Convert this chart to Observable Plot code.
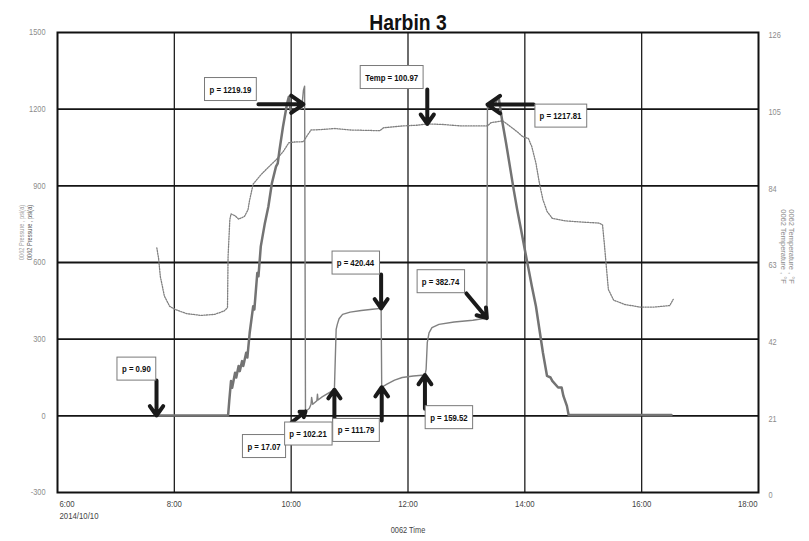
<!DOCTYPE html>
<html><head><meta charset="utf-8">
<script src="https://cdn.jsdelivr.net/npm/d3@7"></script>
<script src="https://cdn.jsdelivr.net/npm/@observablehq/plot@0.6"></script>
<style>
body{margin:0;background:#fff;}
#chart svg{font-family:"Liberation Sans",Arial,sans-serif;}
</style></head><body><div id="chart"></div>
<script>
const title = "Harbin 3";
const xTicks = [6, 8, 10, 12, 14, 16, 18];
const pTicks = [-300, 0, 300, 600, 900, 1200, 1500];
const tTicks = [0, 21, 42, 63, 84, 105, 126];
const dateLabel = "2014/10/10";
const xLabel = "0062 Time";
const yLabel = "0062 Pressure , psi(a)";
const y2Label = "0062 Temperature , °F";

// Temperature (°F), time in hours of day
const tempTime = [7.70,7.73,7.76,7.83,7.92,8.02,8.21,8.46,8.69,8.85,8.91,8.92,8.95,8.97,9.04,9.10,9.20,9.26,9.29,9.35,9.48,9.61,9.74,9.86,9.96,10.05,10.21,10.28,10.34,10.50,10.75,11.01,11.52,11.58,11.90,12.15,12.34,12.60,12.92,13.36,13.42,13.62,13.74,13.87,13.97,14.06,14.12,14.19,14.25,14.31,14.38,14.47,14.70,14.95,15.27,15.33,15.36,15.40,15.43,15.52,15.71,15.97,16.22,16.48,16.54];
const tempValue = [67.0,64.2,59.2,53.8,51.0,50.1,49.0,48.5,48.8,49.7,50.6,64.7,74.7,76.3,75.8,74.9,75.6,77.4,80.2,84.5,87.0,89.1,91.1,93.3,95.8,96.0,96.1,97.9,99.3,99.4,99.7,99.3,99.1,99.9,100.4,100.6,100.97,100.8,100.4,100.4,101.3,101.8,100.4,98.8,97.4,97.0,94.7,90.2,84.7,80.2,77.0,75.1,74.4,74.1,73.8,73.3,68.3,61.0,55.6,52.7,51.5,50.8,50.8,51.2,52.9];

// Pressure psi(a): ramp up
const pUpTime = [7.67,8.92,8.94,8.97,8.99,9.04,9.06,9.10,9.12,9.16,9.18,9.23,9.25,9.29,9.32,9.35,9.37,9.42,9.44,9.48,9.55,9.61,9.67,9.74,9.77,9.80,9.86,9.93,9.96,9.99];
const pUpValue = [0.9,0.9,58,136,110,169,150,195,175,214,195,247,228,325,377,429,416,559,546,663,754,819,910,975,988,1040,1131,1222,1248,1196];
// Pressure: hold / step section
const pMidTime = [9.99,10.02,10.18,10.21,10.23,10.245,10.31,10.34,10.35,10.37,10.44,10.45,10.46,10.53,10.63,10.74,10.77,10.79,10.82,10.88,11.01,11.20,11.39,11.54,11.55,11.64,11.77,11.90,12.09,12.29,12.31,12.33,12.36,12.41,12.53,12.79,13.11,13.35,13.36,13.42];
const pMidValue = [1196,1190,1203,1274,1290,17.07,29,45,72,45,59,85,62,74,88,102.21,338,358,380,397,406,412,417,420.44,111.79,124,140,150,156,159.52,182,286,325,345,358,367,374,382.74,1217.81,1222];
// Pressure: ramp down
const pDownTime = [13.42,13.49,13.55,13.58,13.62,13.68,13.74,13.81,13.87,13.93,14.00,14.06,14.12,14.19,14.25,14.31,14.38,14.44,14.47,14.57,14.63,14.66,14.72,14.75,16.51];
const pDownValue = [1222,1222,1251,1203,1144,1066,982,884,806,735,650,579,507,429,338,247,156,150,137,111,111,78,39,3,3];

// Annotations: label, target time, target value, unit of the value
const annotLabel = ["p = 0.90","p = 1219.19","Temp = 100.97","p = 1217.81","p = 420.44","p = 382.74","p = 17.07","p = 102.21","p = 111.79","p = 159.52"];
const annotTime  = [7.695,10.21,12.33,13.36,11.54,13.35,10.245,10.74,11.55,12.29];
const annotValue = [0.90,1219.19,100.97,1217.81,420.44,382.74,17.07,102.21,111.79,159.52];
const annotUnit  = ["p","p","T","p","p","p","p","p","p","p"];
// Annotation layout (arrow tail and box centre, in time / left-axis units)
const annotLayout = [
  {tailT:7.695, tailP:138,  boxT:7.35,  boxP:183},
  {tailT:9.44,  tailP:1219, boxT:8.96,  boxP:1277},
  {tailT:12.33, tailP:1277, boxT:11.72, boxP:1324},
  {tailT:14.15, tailP:1218, boxT:14.61, boxP:1173},
  {tailT:11.54, tailP:553,  boxT:11.10, boxP:598},
  {tailT:13.00, tailP:479,  boxT:12.556,boxP:525},
  {tailT:10.006,tailP:-26,  boxT:9.535, boxP:-120},
  {tailT:10.74, tailP:-22,  boxT:10.288,boxP:-71},
  {tailT:11.55, tailP:-18,  boxT:11.11, boxP:-57},
  {tailT:12.29, tailP:28,   boxT:12.70, boxP:-7}
];

const pMin = -300, pMax = 1500, tMin = 0, tMax = 126;
const toP = T => pMin + (T - tMin) * (pMax - pMin) / (tMax - tMin);
const fromP = p => tMin + (p - pMin) * (tMax - tMin) / (pMax - pMin);

const temp = tempTime.map((t, i) => ({t, p: toP(tempValue[i])}));
const pUp = pUpTime.map((t, i) => ({t, p: pUpValue[i]}));
const pMid = pMidTime.map((t, i) => ({t, p: pMidValue[i]}));
const pDown = pDownTime.map((t, i) => ({t, p: pDownValue[i]}));
const annots = annotLabel.map((label, i) => ({
  label, t: annotTime[i],
  p: annotUnit[i] === "T" ? toP(annotValue[i]) : annotValue[i],
  ...annotLayout[i]
}));

const hfmt = h => `${h}:00`;
const chart = Plot.plot({
  width: 809, height: 541,
  marginLeft: 57, marginRight: 51, marginTop: 32, marginBottom: 49,
  style: {fontFamily: '"Liberation Sans",Arial,sans-serif', background: "#fff", overflow: "visible"},
  x: {domain: [6, 18], axis: null},
  y: {domain: [pMin, pMax], axis: null},
  marks: [
    Plot.gridX(xTicks.slice(1, -1), {stroke: "#1e1e1e", strokeOpacity: 1, strokeWidth: 1.3}),
    Plot.gridY(pTicks.slice(1, -1), {stroke: "#141414", strokeOpacity: 1, strokeWidth: 1.9}),
    Plot.line(temp, {x: "t", y: "p", stroke: "#808080", strokeWidth: 1.3, strokeDasharray: "1.3,1.3"}),
    Plot.line(pMid, {x: "t", y: "p", stroke: "#808080", strokeWidth: 1.4}),
    Plot.line(pUp, {x: "t", y: "p", stroke: "#737373", strokeWidth: 2.5}),
    Plot.line(pDown, {x: "t", y: "p", stroke: "#737373", strokeWidth: 2.5}),
    Plot.frame({stroke: "#111", strokeWidth: 2}),
    Plot.arrow(annots, {x1: "tailT", y1: "tailP", x2: "t", y2: "p", stroke: "#1a1a1a", strokeWidth: 4, headLength: 10, headAngle: 70}),
    Plot.text(annots, {x: "boxT", y: "boxP", text: "label", fontWeight: "bold", fontSize: 9.5, fill: "#111", className: "annot"}),
    Plot.axisY(pTicks, {anchor: "left", tickSize: 0, tickPadding: 12, tickFormat: d => String(d), color: "#8c8c8c", fontSize: 9, label: null, className: "narrow"}),
    Plot.axisY(tTicks.map(toP), {anchor: "right", tickSize: 0, tickPadding: 10, dy: 3, tickFormat: p => String(Math.round(fromP(p))), color: "#8c8c8c", fontSize: 9, label: null, className: "narrow"}),
    Plot.axisX(xTicks.slice(1, -1), {anchor: "bottom", tickSize: 0, tickPadding: 8, tickFormat: hfmt, color: "#444", fontSize: 9.5, label: null, className: "narrow"}),
    Plot.axisX([xTicks[0]], {anchor: "bottom", tickSize: 0, tickPadding: 8, tickFormat: hfmt, color: "#444", fontSize: 9.5, textAnchor: "start", dx: 2, label: null, className: "narrow"}),
    Plot.axisX([xTicks[xTicks.length - 1]], {anchor: "bottom", tickSize: 0, tickPadding: 8, tickFormat: hfmt, color: "#444", fontSize: 9.5, textAnchor: "end", dx: -1, label: null, className: "narrow"}),
    Plot.text([dateLabel], {x: xTicks[0], frameAnchor: "bottom", text: d => d, textAnchor: "start", dx: 2, dy: 26, fill: "#444", fontSize: 9.5, className: "narrow"}),
    Plot.text([xLabel], {frameAnchor: "bottom", text: d => d, textAnchor: "middle", dy: 40, fill: "#444", fontSize: 9, className: "narrow"}),
    Plot.text([yLabel], {frameAnchor: "left", text: d => d, textAnchor: "middle", rotate: -90, dx: -36, dy: -30, fill: "#a0a0a0", fontSize: 7.8, className: "ylab"}),
    Plot.text([yLabel], {frameAnchor: "left", text: d => d, textAnchor: "middle", rotate: -90, dx: -28, dy: -30, fill: "#555", fontSize: 7.8, className: "ylab"}),
    Plot.text([y2Label], {frameAnchor: "right", text: d => d, textAnchor: "middle", rotate: 90, dx: 33, dy: -16, fill: "#8a8a8a", fontSize: 7.5, className: "axlab"}),
    Plot.text([y2Label], {frameAnchor: "right", text: d => d, textAnchor: "middle", rotate: 90, dx: 25, dy: -16, fill: "#8a8a8a", fontSize: 7.5, className: "axlab"}),
    Plot.text([title], {frameAnchor: "top", text: d => d, textAnchor: "middle", dy: -18, fontSize: 22.5, fontWeight: "bold", fill: "#111", className: "title"})
  ]
});
document.getElementById("chart").appendChild(chart);

// condensed look (like Arial Narrow): squeeze glyphs horizontally
const NARROW = 0.82;
function squeeze(node, f) {
  const L = node.getComputedTextLength();
  if (L > 0) {
    node.setAttribute("textLength", (L * f).toFixed(2));
    node.setAttribute("lengthAdjust", "spacingAndGlyphs");
  }
  return L;
}
chart.querySelectorAll("g.narrow text").forEach(n => squeeze(n, NARROW));
chart.querySelectorAll("g.title text").forEach(n => squeeze(n, 0.86));
chart.querySelectorAll("g.ylab text").forEach(n => squeeze(n, 0.72));

// white boxes with grey border behind annotation labels
chart.querySelectorAll("g.annot text").forEach(node => {
  const b = node.getBBox();
  const L = squeeze(node, NARROW);
  const w = L * NARROW;
  const cx = b.x + b.width / 2;
  const r = document.createElementNS("http://www.w3.org/2000/svg", "rect");
  const padX = 5, padY = 6;
  r.setAttribute("x", cx - w / 2 - padX);
  r.setAttribute("y", b.y - padY);
  r.setAttribute("width", w + 2 * padX);
  r.setAttribute("height", b.height + 2 * padY);
  r.setAttribute("fill", "#fff");
  r.setAttribute("stroke", "#7a7a7a");
  r.setAttribute("stroke-width", "1");
  const tr = node.getAttribute("transform");
  if (tr) r.setAttribute("transform", tr);
  node.parentNode.insertBefore(r, node);
});
</script></body></html>
